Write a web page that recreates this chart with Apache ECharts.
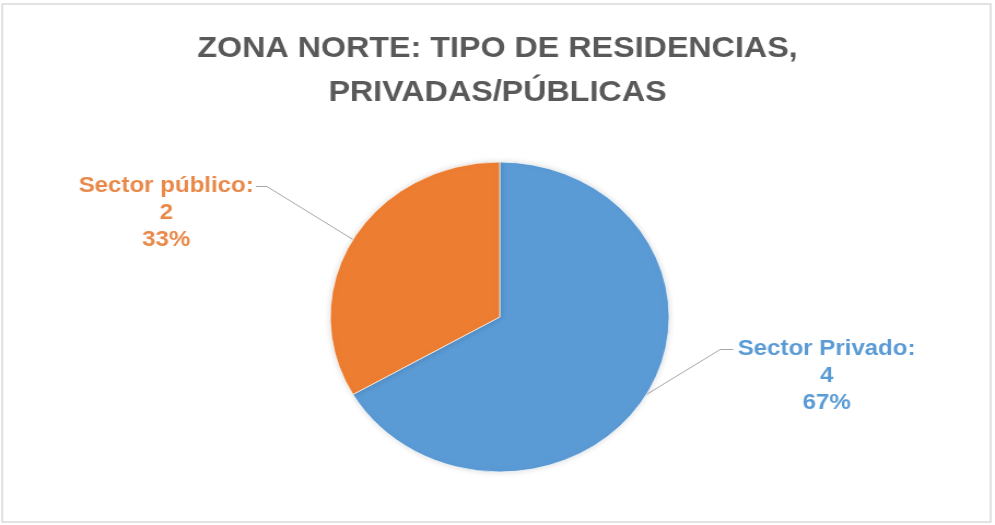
<!DOCTYPE html>
<html>
<head>
<meta charset="utf-8">
<script src="https://cdn.jsdelivr.net/npm/echarts@6/dist/echarts.min.js"></script>
<style>
  html, body { margin: 0; padding: 0; background: #fff; overflow: hidden; }
  /* the source picture is stretched sideways, so the chart is drawn narrower and widened */
  #chart { width: 910px; height: 525px; transform: scaleX(1.0934); transform-origin: 0 0; }
</style>
</head>
<body>
<div id="chart"></div>
<script>
const titleText = 'ZONA NORTE: TIPO DE RESIDENCIAS,\nPRIVADAS/PÚBLICAS'
const sectors = ['Sector Privado', 'Sector público']
const counts = [4, 2]
const colors = ['#5B9BD5', '#ED7D31']
const labelColors = ['#5b9bd5', '#e8894a']

// where each label block is centred (chart pixels, before the sideways stretch)
const labelPos = [[756, 376], [152, 213]]

const chart = echarts.init(document.getElementById('chart'))

const option = {
  animation: false,
  title: {
    text: titleText,
    left: 'center',
    top: 22,
    textStyle: {
      fontFamily: "'Liberation Sans', sans-serif",
      fontSize: 29.5,
      fontWeight: 'bold',
      color: '#595959',
      lineHeight: 44
    }
  },
  graphic: [
    {
      type: 'rect',
      shape: { x: 2, y: 4, width: 904, height: 518 },
      style: { fill: 'none', stroke: '#d9d9d9', lineWidth: 1.5 },
      silent: true
    }
  ],
  series: [
    {
      type: 'pie',
      center: [457, 317],
      radius: 155,
      startAngle: 90,
      clockwise: true,
      data: sectors.map((name, i) => ({
        name: name,
        value: counts[i],
        itemStyle: { color: colors[i] },
        label: { color: labelColors[i] }
      })),
      itemStyle: {
        borderColor: 'rgba(255,255,255,0.7)',
        borderWidth: 1,
        shadowBlur: 6,
        shadowColor: 'rgba(0,0,0,0.15)'
      },
      label: {
        show: true,
        formatter: p => p.name + ':\n' + p.value + '\n' + Math.round(p.percent) + '%',
        fontFamily: "'Liberation Sans', sans-serif",
        fontWeight: 'bold',
        fontSize: 22,
        lineHeight: 27,
        align: 'center'
      },
      labelLine: {
        show: true,
        length: 20,
        length2: 10,
        lineStyle: { color: '#a6a6a6', width: 1 }
      },
      labelLayout: p => {
        const pos = labelPos[p.dataIndex]
        const w = p.labelRect.width
        const h = p.labelRect.height
        // the leader line meets the first text line, as in the spreadsheet chart
        const y1 = pos[1] - h / 2 + 14
        let end, elbow
        if (p.dataIndex === 0) {
          end = [pos[0] - w / 2 - 4, y1]
          elbow = [end[0] - 12, y1]
        } else {
          end = [pos[0] + w / 2 + 2, y1]
          elbow = [end[0] + 10, y1]
        }
        const out = { x: pos[0], y: pos[1], align: 'center', verticalAlign: 'middle' }
        if (p.labelLinePoints) {
          out.labelLinePoints = [p.labelLinePoints[0], elbow, end]
        }
        return out
      }
    }
  ]
}

chart.setOption(option)
window.addEventListener('resize', () => {
  chart.resize()
})
</script>
</body>
</html>
